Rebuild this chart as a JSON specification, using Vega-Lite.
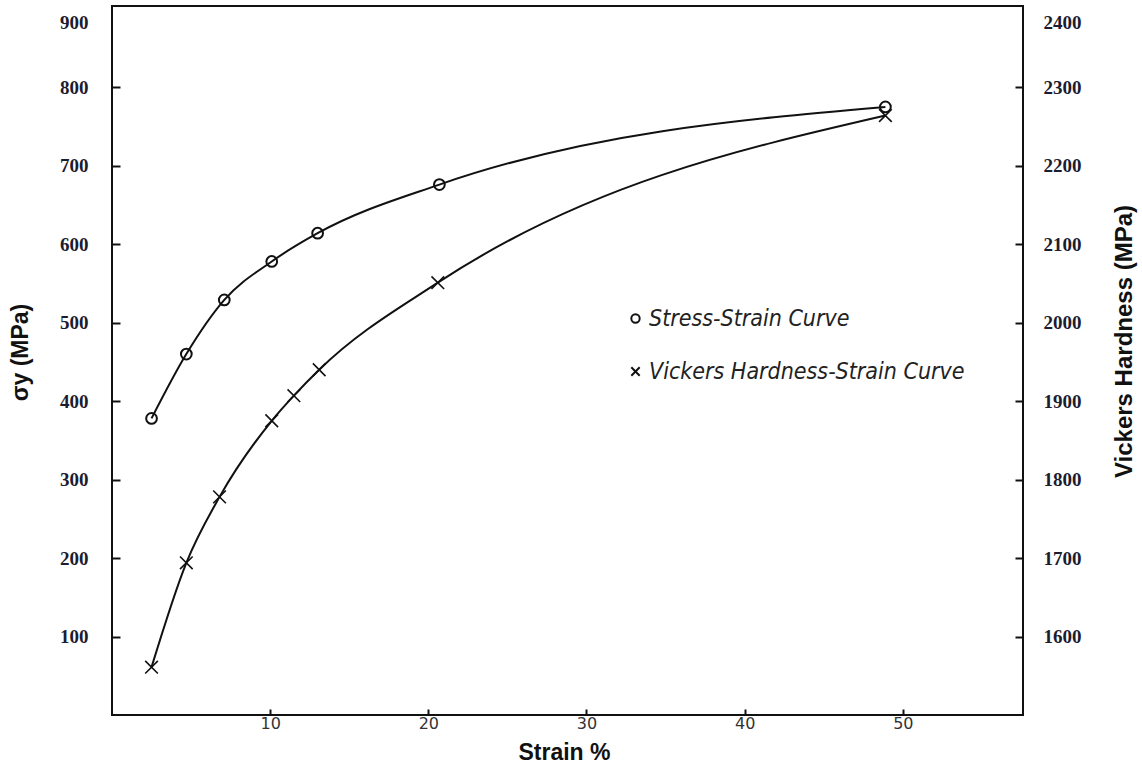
{
  "$schema": "https://vega.github.io/schema/vega-lite/v6.json",
  "width": 911,
  "height": 709,
  "autosize": "none",
  "padding": {"left": 112, "top": 6, "right": 119, "bottom": 52},
  "background": "white",
  "config": {
    "view": {"stroke": "#111", "strokeWidth": 2},
    "axis": {"grid": false, "domain": false, "tickColor": "#111", "tickWidth": 2}
  },
  "datasets": {
    "stress": [
      {"strain": 2.5, "sigma_y": 378, "curve": "Stress-Strain Curve"},
      {"strain": 4.7, "sigma_y": 460, "curve": "Stress-Strain Curve"},
      {"strain": 7.1, "sigma_y": 529, "curve": "Stress-Strain Curve"},
      {"strain": 10.1, "sigma_y": 578, "curve": "Stress-Strain Curve"},
      {"strain": 13.0, "sigma_y": 614, "curve": "Stress-Strain Curve"},
      {"strain": 20.7, "sigma_y": 676, "curve": "Stress-Strain Curve"},
      {"strain": 48.9, "sigma_y": 775, "curve": "Stress-Strain Curve"}
    ],
    "hardness": [
      {"strain": 2.5, "hv": 1561, "curve": "Vickers Hardness-Strain Curve"},
      {"strain": 4.7, "hv": 1694, "curve": "Vickers Hardness-Strain Curve"},
      {"strain": 6.8, "hv": 1778, "curve": "Vickers Hardness-Strain Curve"},
      {"strain": 10.1, "hv": 1875, "curve": "Vickers Hardness-Strain Curve"},
      {"strain": 11.5, "hv": 1907, "curve": "Vickers Hardness-Strain Curve"},
      {"strain": 13.1, "hv": 1940, "curve": "Vickers Hardness-Strain Curve"},
      {"strain": 20.6, "hv": 2051, "curve": "Vickers Hardness-Strain Curve"},
      {"strain": 48.9, "hv": 2264, "curve": "Vickers Hardness-Strain Curve"}
    ]
  },
  "encoding": {
    "x": {
      "field": "strain",
      "type": "quantitative",
      "scale": {"domain": [0, 57.6], "nice": false},
      "axis": {
        "values": [10, 20, 30, 40, 50],
        "tickSize": -6,
        "labelPadding": 6,
        "labelFont": "DejaVu Sans",
        "labelFontSize": 16,
        "labelColor": "#333",
        "title": "Strain %",
        "titleFont": "Liberation Sans",
        "titleFontSize": 23,
        "titleFontWeight": "bold",
        "titleColor": "#111",
        "titleX": 452,
        "titleY": 37,
        "titleAlign": "center",
        "titleBaseline": "middle"
      }
    }
  },
  "layer": [
    {
      "data": {"name": "stress"},
      "encoding": {
        "y": {
          "field": "sigma_y",
          "type": "quantitative",
          "scale": {"domain": [0, 903.6], "nice": false, "zero": false},
          "axis": {
            "values": [100, 200, 300, 400, 500, 600, 700, 800, 900],
            "format": "d",
            "tickSize": -8,
            "tickOpacity": {"condition": {"test": "datum.value > 850", "value": 0}, "value": 1},
            "labelPadding": 32,
            "labelFont": "Liberation Serif",
            "labelFontWeight": "bold",
            "labelFontSize": 19,
            "labelColor": "#1c1c30",
            "labelFlush": 4,
            "labelFlushOffset": -5,
            "title": "σy (MPa)",
            "titleFont": "Liberation Sans",
            "titleFontSize": 23,
            "titleFontWeight": "bold",
            "titleColor": "#111",
            "titleAngle": 270,
            "titleX": -92,
            "titleY": 346,
            "titleAlign": "center",
            "titleBaseline": "middle"
          }
        }
      },
      "layer": [
        {"mark": {"type": "line", "interpolate": "monotone", "color": "#111", "strokeWidth": 2}},
        {
          "mark": {"type": "point", "filled": false, "color": "#111", "strokeWidth": 2, "size": 115, "opacity": 1},
          "encoding": {
            "shape": {
              "field": "curve",
              "type": "nominal",
              "scale": {
                "domain": ["Stress-Strain Curve", "Vickers Hardness-Strain Curve"],
                "range": ["circle", "M-1,-1L1,1M-1,1L1,-1"]
              },
              "legend": {
                "title": null,
                "orient": "none",
                "legendX": 512,
                "legendY": 301,
                "labelFont": "DejaVu Sans Condensed",
                "labelFontStyle": "italic",
                "labelFontSize": 23,
                "labelColor": "#222",
                "labelOffset": 2,
                "labelLimit": 0,
                "symbolSize": 70,
                "symbolStrokeWidth": 2,
                "symbolStrokeColor": "#111",
                "rowPadding": 29
              }
            }
          }
        }
      ]
    },
    {
      "data": {"name": "hardness"},
      "encoding": {
        "y": {
          "field": "hv",
          "type": "quantitative",
          "scale": {"domain": [1500, 2403.6], "nice": false, "zero": false},
          "axis": {
            "orient": "right",
            "values": [1600, 1700, 1800, 1900, 2000, 2100, 2200, 2300, 2400],
            "format": "d",
            "tickSize": -8,
            "tickOpacity": {"condition": {"test": "datum.value > 2350", "value": 0}, "value": 1},
            "labelPadding": 28,
            "labelFont": "Liberation Serif",
            "labelFontWeight": "bold",
            "labelFontSize": 19,
            "labelColor": "#1c1c30",
            "labelFlush": 4,
            "labelFlushOffset": -5,
            "title": "Vickers Hardness (MPa)",
            "titleFont": "Liberation Sans",
            "titleFontSize": 24,
            "titleFontWeight": "bold",
            "titleColor": "#111",
            "titleAngle": 270,
            "titleX": 101,
            "titleY": 335,
            "titleAlign": "center",
            "titleBaseline": "middle"
          }
        }
      },
      "layer": [
        {"mark": {"type": "line", "interpolate": "monotone", "color": "#111", "strokeWidth": 2}},
        {
          "mark": {"type": "point", "filled": false, "color": "#111", "strokeWidth": 1.6, "size": 160, "opacity": 1},
          "encoding": {
            "shape": {
              "field": "curve",
              "type": "nominal",
              "scale": {
                "domain": ["Stress-Strain Curve", "Vickers Hardness-Strain Curve"],
                "range": ["circle", "M-1,-1L1,1M-1,1L1,-1"]
              }
            }
          }
        }
      ]
    }
  ],
  "resolve": {"scale": {"y": "independent"}}
}
